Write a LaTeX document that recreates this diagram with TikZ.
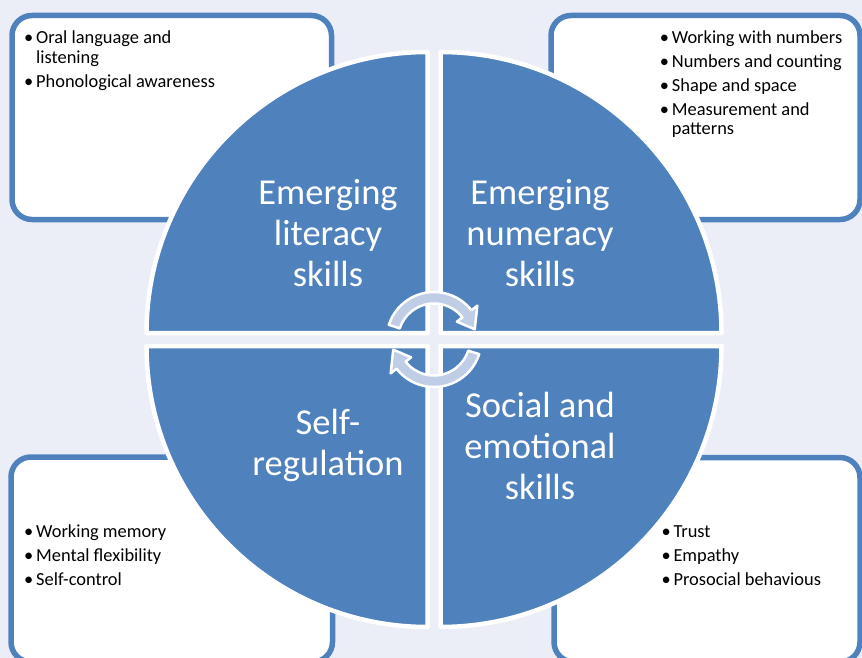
\documentclass[tikz,border=0pt]{standalone}
\usepackage{fontspec}
\setmainfont{Carlito}
\definecolor{qblue}{HTML}{4F81BD}
\definecolor{bgcol}{HTML}{EBEEF7}
\definecolor{arrowfill}{HTML}{BFCDE6}
\begin{document}
\begin{tikzpicture}[x=1pt,y=-1pt,
  infobox/.style={draw=qblue, line width=5.5pt, fill=white, rounded corners=20pt},
  quad/.style={fill=qblue, draw=white, line width=4.5pt, line join=round},
  bigtext/.style={text=white, align=center, inner sep=0pt,
    font=\fontsize{36.5}{41}\selectfont},
  itemtext/.style={anchor=base west, inner sep=0pt, text=black,
    font=\fontsize{18.4}{20}\selectfont},
  cyclearrow/.style={fill=arrowfill, draw=white, line width=2.5pt, line join=round}]
\newcommand{\bul}{\makebox[12pt][l]{•}}
\useasboundingbox (0,0) rectangle (862,658);
\clip (0,0) rectangle (862,658);
\fill[bgcol] (0,0) rectangle (862,658);

% info boxes
\draw[infobox] (12,15.5) rectangle (331.5,219.5);
\draw[infobox] (551,15.5) rectangle (860,219.5);
\draw[infobox] (11,457) rectangle (332.5,662);
\draw[infobox] (554,457.5) rectangle (860,662);

% box texts
\node[itemtext] (tl1) at (24,43.3) {\bul Oral language and};
\node[itemtext] (tl1b) at (36,63.3) {listening};
\node[itemtext] (tl2) at (24,87.3) {\bul Phonological awareness};

\node[itemtext] (tr1) at (659.7,43.3) {\bul Working with numbers};
\node[itemtext] (tr2) at (659.7,67.5) {\bul Numbers and counting};
\node[itemtext] (tr3) at (659.7,91.3) {\bul Shape and space};
\node[itemtext] (tr4) at (659.7,115.2) {\bul Measurement and};
\node[itemtext] (tr4b) at (671.7,135) {patterns};

\node[itemtext] (bl1) at (24,537.3) {\bul Working memory};
\node[itemtext] (bl2) at (24,561) {\bul Mental flexibility};
\node[itemtext] (bl3) at (24,585) {\bul Self-control};

\node[itemtext] (br1) at (661.3,537.3) {\bul Trust};
\node[itemtext] (br2) at (661.3,561) {\bul Empathy};
\node[itemtext] (br3) at (661.3,585) {\bul Prosocial behavious};

% quadrants
\path[quad] (427.5,333) -- (146.5,333) arc[start angle=180, end angle=270, radius=281] -- cycle;
\path[quad] (440.5,333) -- (440.5,52) arc[start angle=270, end angle=360, radius=281] -- cycle;
\path[quad] (440.5,346) -- (721.5,346) arc[start angle=0, end angle=90, radius=281] -- cycle;
\path[quad] (427.5,346) -- (427.5,627) arc[start angle=90, end angle=180, radius=281] -- cycle;

% quadrant titles
\node[bigtext] (lit) at (328,233) {Emerging\\literacy\\skills};
\node[bigtext] (num) at (540,233) {Emerging\\numeracy\\skills};
\node[bigtext] (self) at (328,445) {Self-\\regulation};
\node[bigtext] (soc) at (540,446) {Social and\\emotional\\skills};

% cycle arrows
\coordinate (c) at (434,339.5);
\path[cyclearrow] ([shift={(c)}]198:47.5) arc[start angle=198, end angle=322, radius=47.5]
  -- ([shift={(c)}]322:55) -- ([shift={(c)}]346:42) -- ([shift={(c)}]322:29)
  -- ([shift={(c)}]322:36) arc[start angle=322, end angle=198, radius=36] -- cycle;
\path[cyclearrow] ([shift={(c)}]18:47.5) arc[start angle=18, end angle=142, radius=47.5]
  -- ([shift={(c)}]142:55) -- ([shift={(c)}]166:42) -- ([shift={(c)}]142:29)
  -- ([shift={(c)}]142:36) arc[start angle=142, end angle=18, radius=36] -- cycle;
\end{tikzpicture}
\end{document}
